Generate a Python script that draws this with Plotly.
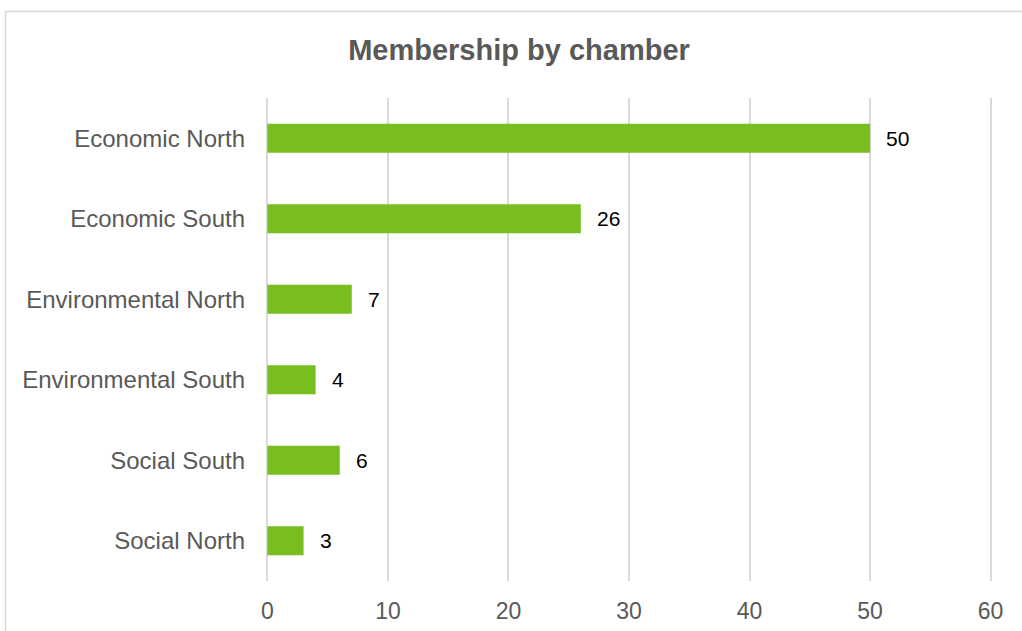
import plotly.graph_objects as go

# Membership counts per chamber (listed top to bottom)
chambers = ["Economic North", "Economic South", "Environmental North",
            "Environmental South", "Social South", "Social North"]
members = [50, 26, 7, 4, 6, 3]
x_ticks = [0, 10, 20, 30, 40, 50, 60]

W, H = 1022, 631
ML, MR, MT, MB = 265, 29, 98, 50
pw, ph = W - ML - MR, H - MT - MB

GREEN = "#78BE21"
GREY_TXT = "#595959"
FONT = "Liberation Sans, Arial, sans-serif"

fig = go.Figure(go.Bar(
    x=members, y=chambers, orientation="h",
    marker=dict(color=GREEN, line=dict(width=0)),
    width=0.36, hoverinfo="x+y",
))

# value labels just past each bar end
for c, v in zip(chambers, members):
    fig.add_annotation(x=v, y=c, text=str(v), showarrow=False,
                       xanchor="left", yanchor="middle", xshift=14,
                       font=dict(family=FONT, size=21, color="#000000"))

# outer chart frame (continues past the right and bottom edges)
fig.add_shape(type="rect", xref="paper", yref="paper",
              x0=(5.5 - ML) / pw, x1=(W + 20 - ML) / pw,
              y0=-(MB + 20) / ph, y1=1 + (MT - 11.5) / ph,
              line=dict(color="#D9D9D9", width=1.5), fillcolor="rgba(0,0,0,0)",
              layer="below")

fig.update_layout(
    width=W, height=H,
    margin=dict(l=ML, r=MR, t=MT, b=MB),
    paper_bgcolor="white", plot_bgcolor="white",
    showlegend=False,
    title=dict(text="<b>Membership by chamber</b>", x=519 / W, xanchor="center",
               y=1 - 50 / H, yanchor="middle", yref="container",
               font=dict(family=FONT, size=29, color=GREY_TXT)),
    xaxis=dict(range=[-0.2, 60.2], tickvals=x_ticks, showgrid=True,
               gridcolor="#D9D9D9", gridwidth=1.5, zeroline=False,
               showline=False, ticks="", ticklabelstandoff=14,
               automargin=False,
               tickfont=dict(family=FONT, size=23, color=GREY_TXT)),
    yaxis=dict(categoryorder="array", categoryarray=chambers,
               autorange="reversed", showgrid=False, zeroline=False,
               showline=False, ticks="", ticklabelstandoff=19,
               automargin=False,
               tickfont=dict(family=FONT, size=24, color=GREY_TXT)),
)

fig.write_html("out.html")
